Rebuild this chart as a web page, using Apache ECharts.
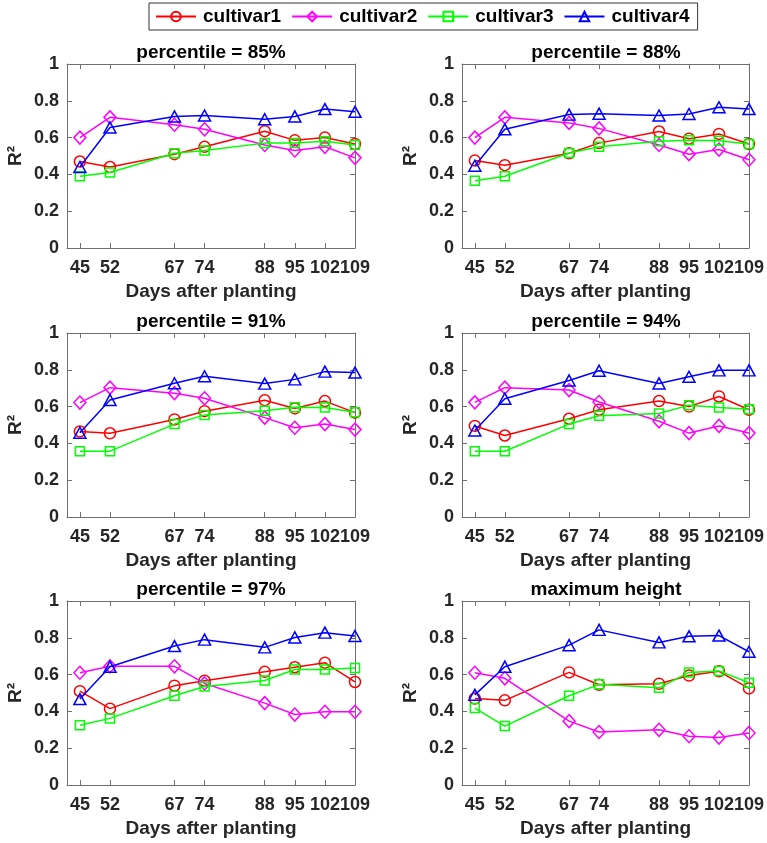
<!DOCTYPE html>
<html>
<head>
<meta charset="utf-8">
<script src="https://cdn.jsdelivr.net/npm/echarts@6/dist/echarts.min.js"></script>
<style>
html,body{margin:0;padding:0;background:#fff;}
#chart{width:767px;height:843px;}
</style>
</head>
<body>
<div id="chart"></div>
<script>
// ---- data ----
const days = [45, 52, 67, 74, 88, 95, 102, 109];
const xTickLabels = [45, 52, 67, 74, 88, 95, 102, 109];
const yTicks = [0, 0.2, 0.4, 0.6, 0.8, 1];
const seriesNames = ['cultivar1', 'cultivar2', 'cultivar3', 'cultivar4'];
const panelTitles = ['percentile = 85%', 'percentile = 88%', 'percentile = 91%',
                     'percentile = 94%', 'percentile = 97%', 'maximum height'];

const p85_cultivar1 = [0.47, 0.44, 0.51, 0.55, 0.635, 0.585, 0.60, 0.565];
const p85_cultivar2 = [0.60, 0.71, 0.67, 0.645, 0.56, 0.53, 0.55, 0.49];
const p85_cultivar3 = [0.39, 0.41, 0.515, 0.53, 0.57, 0.57, 0.58, 0.56];
const p85_cultivar4 = [0.44, 0.655, 0.715, 0.72, 0.70, 0.715, 0.755, 0.74];

const p88_cultivar1 = [0.475, 0.45, 0.515, 0.57, 0.633, 0.594, 0.62, 0.565];
const p88_cultivar2 = [0.60, 0.71, 0.68, 0.65, 0.56, 0.51, 0.535, 0.48];
const p88_cultivar3 = [0.366, 0.39, 0.516, 0.55, 0.58, 0.585, 0.583, 0.565];
const p88_cultivar4 = [0.447, 0.645, 0.725, 0.73, 0.72, 0.728, 0.765, 0.755];

const p91_cultivar1 = [0.465, 0.455, 0.53, 0.575, 0.635, 0.59, 0.63, 0.567];
const p91_cultivar2 = [0.622, 0.703, 0.673, 0.645, 0.54, 0.485, 0.505, 0.475];
const p91_cultivar3 = [0.358, 0.358, 0.505, 0.555, 0.578, 0.596, 0.595, 0.569];
const p91_cultivar4 = [0.458, 0.636, 0.727, 0.765, 0.725, 0.748, 0.79, 0.785];

const p94_cultivar1 = [0.495, 0.443, 0.534, 0.583, 0.63, 0.6, 0.655, 0.583];
const p94_cultivar2 = [0.623, 0.703, 0.69, 0.625, 0.52, 0.456, 0.495, 0.456];
const p94_cultivar3 = [0.357, 0.357, 0.505, 0.55, 0.563, 0.608, 0.595, 0.586];
const p94_cultivar4 = [0.47, 0.643, 0.742, 0.795, 0.726, 0.762, 0.797, 0.797];

const p97_cultivar1 = [0.51, 0.415, 0.54, 0.567, 0.615, 0.64, 0.665, 0.56];
const p97_cultivar2 = [0.61, 0.645, 0.645, 0.552, 0.445, 0.383, 0.398, 0.398];
const p97_cultivar3 = [0.325, 0.362, 0.485, 0.535, 0.568, 0.628, 0.628, 0.636];
const p97_cultivar4 = [0.467, 0.643, 0.755, 0.79, 0.748, 0.802, 0.828, 0.81];

const max_cultivar1 = [0.47, 0.46, 0.612, 0.545, 0.55, 0.595, 0.618, 0.525];
const max_cultivar2 = [0.61, 0.58, 0.347, 0.288, 0.30, 0.265, 0.258, 0.283];
const max_cultivar3 = [0.418, 0.32, 0.485, 0.547, 0.528, 0.612, 0.62, 0.556];
const max_cultivar4 = [0.49, 0.643, 0.76, 0.843, 0.775, 0.808, 0.812, 0.724];

const panels = [
  [p85_cultivar1, p85_cultivar2, p85_cultivar3, p85_cultivar4],
  [p88_cultivar1, p88_cultivar2, p88_cultivar3, p88_cultivar4],
  [p91_cultivar1, p91_cultivar2, p91_cultivar3, p91_cultivar4],
  [p94_cultivar1, p94_cultivar2, p94_cultivar3, p94_cultivar4],
  [p97_cultivar1, p97_cultivar2, p97_cultivar3, p97_cultivar4],
  [max_cultivar1, max_cultivar2, max_cultivar3, max_cultivar4]
];

// ---- styles ----
const FONT = 'Liberation Sans, Arial, Helvetica, sans-serif';
const colors = ['#ff0000', '#ff00ff', '#00ff00', '#0000ff'];
const symbols = ['circle', 'diamond', 'rect', 'triangle'];
const symbolSizes = [11, [12, 13], 9, [12, 11]];
const axisColor = '#6f6f6f';
const labelColor = '#262626';

const colLeft = [67, 462];
const colWidth = 288;
const rowTop = [64, 333, 601];
const rowHeight = 184;

const grids = [], xAxes = [], yAxes = [], titles = [], series = [];

for (let p = 0; p < 6; p++) {
  const col = p % 2, row = Math.floor(p / 2);
  grids.push({left: colLeft[col], top: rowTop[row], width: colWidth, height: rowHeight, containLabel: false});
  titles.push({
    text: panelTitles[p],
    left: colLeft[col] + colWidth / 2,
    top: rowTop[row] - 21,
    textAlign: 'center',
    padding: 0,
    textStyle: {fontFamily: FONT, fontSize: 19, fontWeight: 'bold', color: '#000'}
  });
  const tickStyle = {inside: true, length: 5, lineStyle: {color: axisColor, width: 1}};
  xAxes.push({
    gridIndex: p, type: 'value', position: 'bottom', min: 42, max: 109,
    axisLine: {show: true, onZero: false, lineStyle: {color: axisColor, width: 1}},
    axisTick: Object.assign({customValues: days}, tickStyle),
    axisLabel: {customValues: xTickLabels, fontFamily: FONT, fontSize: 18, fontWeight: 'bold', color: labelColor, margin: 11, hideOverlap: false, showMinLabel: true, showMaxLabel: true},
    splitLine: {show: false},
    name: 'Days after planting', nameLocation: 'middle', nameGap: 34,
    nameTextStyle: {fontFamily: FONT, fontSize: 19, fontWeight: 'bold', color: labelColor}
  });
  xAxes.push({
    gridIndex: p, type: 'value', position: 'top', min: 42, max: 109,
    axisLine: {show: true, onZero: false, lineStyle: {color: axisColor, width: 1}},
    axisTick: Object.assign({customValues: days}, tickStyle),
    axisLabel: {show: false},
    splitLine: {show: false}
  });
  yAxes.push({
    gridIndex: p, type: 'value', position: 'left', min: 0, max: 1, interval: 0.2,
    axisLine: {show: true, onZero: false, lineStyle: {color: axisColor, width: 1}},
    axisTick: tickStyle,
    axisLabel: {fontFamily: FONT, fontSize: 18, fontWeight: 'bold', color: labelColor, margin: 8,
      formatter: v => String(Math.round(v * 10) / 10)},
    splitLine: {show: false},
    name: 'R²', nameLocation: 'middle', nameRotate: 90, nameGap: 42,
    nameTextStyle: {fontFamily: FONT, fontSize: 19, fontWeight: 'bold', color: labelColor}
  });
  yAxes.push({
    gridIndex: p, type: 'value', position: 'right', min: 0, max: 1, interval: 0.2,
    axisLine: {show: true, onZero: false, lineStyle: {color: axisColor, width: 1}},
    axisTick: tickStyle,
    axisLabel: {show: false},
    splitLine: {show: false}
  });
  for (let s = 0; s < 4; s++) {
    series.push({
      name: seriesNames[s],
      type: 'line',
      xAxisIndex: 2 * p, yAxisIndex: 2 * p,
      data: days.map((d, i) => [d, panels[p][s][i]]),
      symbol: symbols[s],
      symbolSize: symbolSizes[s],
      showAllSymbol: true,
      color: colors[s],
      lineStyle: {color: colors[s], width: 1.5},
      itemStyle: {color: 'rgba(255,255,255,0)', borderColor: colors[s], borderWidth: 1.5},
      emphasis: {disabled: true},
      z: 2 + s,
      clip: false
    });
  }
}

const chart = echarts.init(document.getElementById('chart'), null, {renderer: 'canvas'});
chart.setOption({
  animation: false,
  backgroundColor: '#fff',
  title: titles,
  legend: {
    data: seriesNames,
    left: 149, top: 3,
    orient: 'horizontal',
    itemWidth: 40, itemHeight: 12, itemGap: 10,
    padding: [4, 8, 4, 6],
    borderColor: '#333', borderWidth: 1,
    backgroundColor: '#fff',
    textStyle: {fontFamily: FONT, fontSize: 19, fontWeight: 'bold', color: '#000', padding: [0, 0, 0, 2]},
    selectedMode: false
  },
  grid: grids,
  xAxis: xAxes,
  yAxis: yAxes,
  series: series
});
</script>
</body>
</html>
